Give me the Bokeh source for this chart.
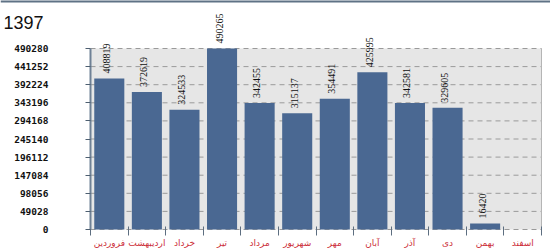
import math
from bokeh.plotting import figure
from bokeh.models import (Range1d, FixedTicker, LabelSet, Label, ColumnDataSource,
                          NumeralTickFormatter, BoxAnnotation)
from bokeh.embed import file_html
from bokeh.resources import INLINE

title_text = "1397"
months = ["فروردین", "اردیبهشت", "خرداد", "تیر", "مرداد", "شهریور",
          "مهر", "آبان", "آذر", "دی", "بهمن", "اسفند"]
values = [408819, 372619, 324533, 490265, 342455, 315137,
          354491, 425995, 342581, 329605, 16420, 0]
y_ticks = [0, 49028, 98056, 147084, 196112, 245140, 294168,
           343196, 392224, 441252, 490280]

n = len(months)
xs = [i + 0.5 for i in range(n)]
src = ColumnDataSource(dict(x=xs, top=values,
                            lab=[str(v) if v > 0 else "" for v in values]))

# canvas geometry (pixels) of the plotting area inside the full-canvas frame
W, H = 550, 248
FL, FR, FT, FB = 90, 541, 48, 229
ymax = y_ticks[-1]
px_x = n / (FR - FL)          # data units per pixel
px_y = ymax / (FB - FT)

p = figure(width=W, height=H,
           x_range=Range1d(-FL * px_x, (W - FL) * px_x),
           y_range=Range1d(-(H - FB) * px_y, FB * px_y),
           output_backend="svg", toolbar_location=None,
           min_border=0, min_border_left=0, min_border_right=0,
           min_border_top=0, min_border_bottom=0,
           background_fill_color="white", border_fill_color="white")
p.outline_line_color = None
p.xgrid.visible = False
p.ygrid.visible = False

# plot-area background
p.add_layout(BoxAnnotation(left=0, right=n, bottom=0, top=ymax,
                           fill_color="#e6e6e6", fill_alpha=1, line_color=None,
                           level="underlay"))

# dashed horizontal grid
p.segment(x0=[0] * len(y_ticks), x1=[n] * len(y_ticks), y0=y_ticks, y1=y_ticks,
          line_color="#9a9a9a", line_dash="5 4", line_width=1)
# right edge of plot area
p.segment(x0=[n], x1=[n], y0=[0], y1=[ymax], line_color="#b5b5b5", line_width=1)

p.vbar(x="x", top="top", width=0.8, source=src,
       fill_color="#4a6892", line_color=None)

# x axis
p.xaxis.fixed_location = 0
p.xaxis.bounds = (0, n)
p.xaxis.ticker = FixedTicker(ticks=xs, minor_ticks=list(range(n + 1)))
p.xaxis.major_label_overrides = {x: m for x, m in zip(xs, months)}
p.xaxis.major_tick_in = 0
p.xaxis.major_tick_out = 0
p.xaxis.minor_tick_in = 3
p.xaxis.minor_tick_out = 6
p.xaxis.minor_tick_line_color = "#5d6e80"
p.xaxis.axis_line_color = None
p.xaxis.major_label_text_color = "#cc2f3a"
p.xaxis.major_label_text_font = "DejaVu Sans"
p.xaxis.major_label_text_font_size = "9px"
p.xaxis.major_label_standoff = 2

# y axis
p.yaxis.fixed_location = 0
p.yaxis.bounds = (0, ymax)
p.yaxis.ticker = FixedTicker(ticks=y_ticks)
p.yaxis.formatter = NumeralTickFormatter(format="0")
p.yaxis.major_tick_in = 0
p.yaxis.major_tick_out = 5
p.yaxis.minor_tick_line_color = None
p.yaxis.major_tick_line_color = "#4d5e70"
p.yaxis.axis_line_color = "#6f8196"
p.yaxis.axis_line_width = 2
p.yaxis.major_label_text_font = "DejaVu Sans Mono"
p.yaxis.major_label_text_font_style = "bold"
p.yaxis.major_label_text_font_size = "9.5px"
p.yaxis.major_label_text_color = "#111111"
p.yaxis.major_label_text_align = "left"
p.yaxis.major_label_standoff = 37

# value labels
p.add_layout(LabelSet(x="x", y="top", text="lab", source=src, angle=math.pi / 2,
                      text_align="left", text_baseline="middle", x_offset=-3, y_offset=5,
                      text_font="DejaVu Sans Mono", text_font_size="10px",
                      text_color="#111111"))

# title and top rule
p.add_layout(Label(x=(3 - FL) * px_x, y=(FB - 22) * px_y, text=title_text,
                   text_align="left", text_baseline="alphabetic",
                   text_font="Liberation Sans", text_font_size="18px",
                   text_color="#111111"))
p.add_layout(BoxAnnotation(left=-FL * px_x, right=(W - FL) * px_x,
                           bottom=(FB - 2) * px_y, top=(FB + 1) * px_y,
                           fill_color="#5f7285", fill_alpha=1, line_color=None))

open("out.html", "w").write(file_html(p, INLINE))
